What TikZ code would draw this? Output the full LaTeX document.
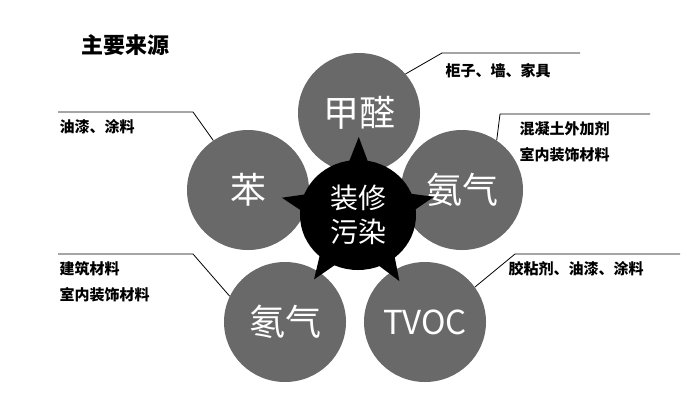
\documentclass[tikz,border=0pt]{standalone}
\usepackage{fontspec}
\setmainfont{Noto Sans CJK SC}
\usetikzlibrary{shapes.geometric,calc}
\definecolor{petalgray}{RGB}{105,105,105}
\tikzstyle{petal}=[ellipse,fill=petalgray,minimum width=122pt,minimum height=120pt,inner sep=0pt,text=white,font=\fontsize{36}{38}\selectfont]
\tikzstyle{hub}=[ellipse,fill=black,minimum width=116pt,minimum height=110pt,inner sep=0pt,text=white,align=center,font=\fontsize{28}{34}\selectfont]
\tikzstyle{note}=[anchor=north west,align=left,font=\fontsize{15}{26}\selectfont\bfseries]
\tikzstyle{lead}=[draw,thick,-]

\begin{document}
\begin{tikzpicture}[x=1pt,y=-1pt]
      \useasboundingbox (0,0) rectangle (700,400);

      \node[font=\fontsize{22}{24}\selectfont\bfseries] (title) at (125,45) {主要来源};

      \node[petal] (jq) at (359,113) {甲醛};
      \node[petal] (ben) at (248,190) {苯};
      \node[petal] (aq) at (462,190) {氨气};
      \node[petal] (dq) at (285,322) {氡气};
      \node[petal,font=\fontsize{33}{35}\selectfont] (tvoc) at (425,322) {TVOC};

      % spikes
      \coordinate (hc) at (358,215);
      \foreach \p in {jq,ben,aq,dq,tvoc}
        \fill ($(hc)!50pt!-13:(\p)$) -- ($(hc)!78pt!(\p)$) -- ($(hc)!50pt!13:(\p)$) -- cycle;

      \node[hub] (hub) at (hc) {装修\\污染};

      \coordinate (c1) at (442,53);
      \coordinate (c1e) at (580,53);
      \path[lead] (jq.40) -- (c1) -- (c1e);
      \node[note] (n1) at (442,60) {柜子、墙、家具};

      \coordinate (c2) at (193,112);
      \coordinate (c2e) at (58,112);
      \path[lead] (ben.125) -- (c2) -- (c2e);
      \node[note] (n2) at (56,116) {油漆、涂料};

      \coordinate (c3) at (500,114);
      \coordinate (c3e) at (650,114);
      \path[lead] (aq.55) -- (c3) -- (c3e);
      \node[note] (n3) at (516,118) {混凝土外加剂\\室内装饰材料};

      \coordinate (c4) at (193,254);
      \coordinate (c4e) at (58,254);
      \path[lead] (dq.155) -- (c4) -- (c4e);
      \node[note] (n4) at (56,258) {建筑材料\\室内装饰材料};

      \coordinate (c5) at (515,254);
      \coordinate (c5e) at (680,254);
      \path[lead] (tvoc.35) -- (c5) -- (c5e);
      \node[note] (n5) at (505,258) {胶粘剂、油漆、涂料};

    \end{tikzpicture}
\end{document}
